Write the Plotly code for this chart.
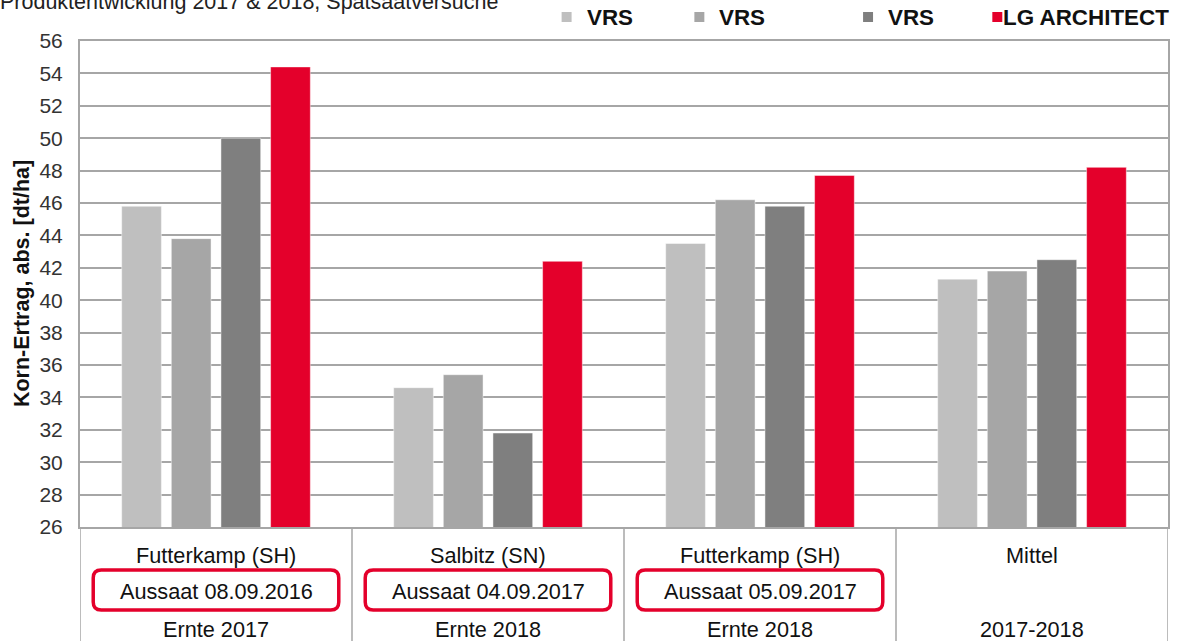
import plotly.graph_objects as go

# ---- data ----
series_names = ["VRS", "VRS", "VRS", "LG ARCHITECT"]
series_colors = ["#BFBFBF", "#A6A6A6", "#7F7F7F", "#E4002B"]
locations = ["Futterkamp (SH)", "Salbitz (SN)", "Futterkamp (SH)", "Mittel"]
sowing = ["Aussaat 08.09.2016", "Aussaat 04.09.2017", "Aussaat 05.09.2017", ""]
harvest = ["Ernte 2017", "Ernte 2018", "Ernte 2018", "2017-2018"]
vrs1 = [45.8, 34.6, 43.5, 41.3]
vrs2 = [43.8, 35.4, 46.2, 41.8]
vrs3 = [50.0, 31.8, 45.8, 42.5]
lg_architect = [54.4, 42.4, 47.7, 48.2]
series_values = [vrs1, vrs2, vrs3, lg_architect]
y_ticks = list(range(26, 57, 2))
title_text = "Produktentwicklung 2017 &amp; 2018, Spätsaatversuche"
y_title = "Korn-Ertrag, abs. [dt/ha]"

# ---- layout geometry (pixels) ----
W, H = 1181, 641
ML, MR, MT, MB = 80, 11, 41, 114
PW = W - ML - MR
PH = H - MT - MB

def py(p):  # pixel y -> paper y
    return (H - MB - p) / PH

def px(p):  # pixel x -> paper x
    return (p - ML) / PW

FONT = "Liberation Sans, Arial, sans-serif"
GRID = "#A6A6A6"
TXT = 21.7
xs = list(range(len(locations)))

fig = go.Figure()
for name, color, vals in zip(series_names, series_colors, series_values):
    fig.add_trace(go.Bar(
        x=xs, y=vals, name=name,
        marker=dict(color=color, line=dict(color="rgba(255,255,255,0.45)", width=1)),
        showlegend=False,
    ))

shapes = []
annotations = []

# table vertical separators
for b in [-0.5] + [i + 0.5 for i in xs]:
    shapes.append(dict(type="line", xref="x", yref="paper", x0=b, x1=b,
                       y0=0, y1=py(H + 5), line=dict(color=GRID, width=1.5), layer="above"))

# table texts and rounded boxes
unit = PW / len(locations)  # pixels per category
for i in xs:
    annotations.append(dict(x=i, y=py(555), xref="x", yref="paper", text=locations[i],
                            showarrow=False, font=dict(size=TXT, color="#111111", family=FONT),
                            xanchor="center", yanchor="middle"))
    annotations.append(dict(x=i, y=py(629), xref="x", yref="paper", text=harvest[i],
                            showarrow=False, font=dict(size=TXT, color="#111111", family=FONT),
                            xanchor="center", yanchor="middle"))
    if sowing[i]:
        annotations.append(dict(x=i, y=py(591), xref="x", yref="paper", text=sowing[i],
                                showarrow=False, font=dict(size=TXT, color="#111111", family=FONT),
                                xanchor="center", yanchor="middle"))
        hw = 123 / unit
        rx = 8 / unit
        ry = 8 / PH
        x0, x1 = i - hw, i + hw
        y0, y1 = py(610), py(570)
        path = (f"M {x0+rx},{y1} L {x1-rx},{y1} Q {x1},{y1} {x1},{y1-ry} "
                f"L {x1},{y0+ry} Q {x1},{y0} {x1-rx},{y0} L {x0+rx},{y0} "
                f"Q {x0},{y0} {x0},{y0+ry} L {x0},{y1-ry} Q {x0},{y1} {x0+rx},{y1} Z")
        shapes.append(dict(type="path", xref="x", yref="paper", path=path,
                           line=dict(color="#E4002B", width=3.5), layer="above"))

# legend (manual, uneven spacing as in reference)
legend_marker_px = [567.5, 700.5, 869.5, 999]
legend_text_px = [586, 718, 887, 1003]
for name, color, mx, tx in zip(series_names, series_colors, legend_marker_px, legend_text_px):
    shapes.append(dict(type="rect", xref="paper", yref="paper",
                       x0=px(mx - 5), x1=px(mx + 5), y0=py(22), y1=py(12),
                       fillcolor=color, line=dict(width=0)))
    annotations.append(dict(x=px(tx), y=py(17), xref="paper", yref="paper", text=f"<b>{name}</b>",
                            showarrow=False, font=dict(size=22.4, color="#111111", family=FONT),
                            xanchor="left", yanchor="middle"))

# title (cut off at top in reference)
annotations.append(dict(x=px(-2), y=py(2), xref="paper", yref="paper", text=title_text,
                        showarrow=False, font=dict(size=21.5, color="#222222", family=FONT),
                        xanchor="left", yanchor="middle"))
# y-axis title
annotations.append(dict(x=px(22), y=0.5, xref="paper", yref="paper", text=f"<b>{y_title}</b>",
                        showarrow=False, textangle=-90,
                        font=dict(size=21.5, color="#111111", family=FONT),
                        xanchor="center", yanchor="middle"))

fig.update_layout(
    width=W, height=H,
    margin=dict(l=ML, r=MR, t=MT, b=MB, pad=0),
    paper_bgcolor="white", plot_bgcolor="white",
    barmode="group", bargap=0.27, bargroupgap=0.2,
    font=dict(family=FONT),
    hovermode=False,
    xaxis=dict(range=[-0.5, 3.5], showticklabels=False, ticks="", showgrid=False,
               zeroline=False, showline=True, linecolor=GRID, linewidth=2, mirror=True),
    yaxis=dict(range=[26, 56], tickvals=y_ticks, ticks="", showgrid=True,
               gridcolor=GRID, gridwidth=1.5, zeroline=False,
               showline=True, linecolor=GRID, linewidth=2, mirror=True,
               tickfont=dict(size=21, color="#333333", family=FONT),
               ticklabelstandoff=11),
    shapes=shapes, annotations=annotations,
)

fig.write_html("out.html",
               config={"displayModeBar": False},
               post_script="document.body.style.margin='0';document.body.style.overflow='hidden';")
